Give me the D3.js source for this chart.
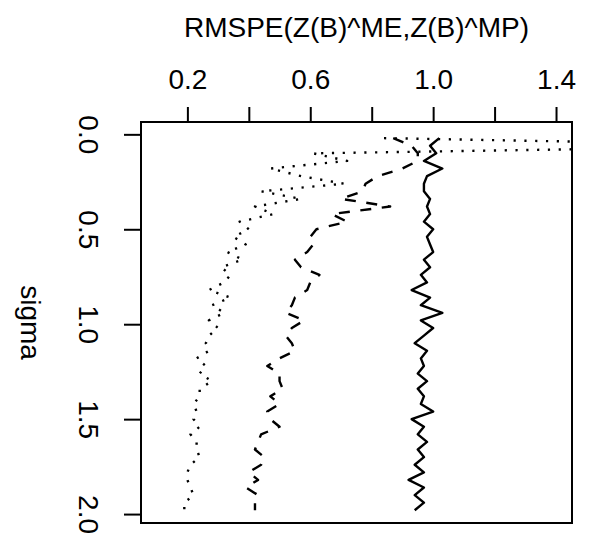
<!DOCTYPE html>
<html>
<head>
<meta charset="utf-8">
<script src="https://cdn.jsdelivr.net/npm/d3@7"></script>
<style>
  body { margin: 0; background: #fff; }
  svg { display: block; }
  text { font-family: "Liberation Sans", Arial, Helvetica, sans-serif; fill: #000; }
</style>
</head>
<body>
<div id="chart"></div>
<script>
const SIGMA = [
  0.02, 0.06, 0.10, 0.14, 0.18, 0.22, 0.26, 0.30, 0.34, 0.38,
  0.42, 0.46, 0.50, 0.54, 0.58, 0.62, 0.66, 0.70, 0.74, 0.78,
  0.82, 0.86, 0.90, 0.94, 0.98, 1.02, 1.06, 1.10, 1.14, 1.18,
  1.22, 1.26, 1.30, 1.34, 1.38, 1.42, 1.46, 1.50, 1.54, 1.58,
  1.62, 1.66, 1.70, 1.74, 1.78, 1.82, 1.86, 1.90, 1.94, 1.98
];

// solid line
const RMSPE_SOLID = [
  1.02, 0.99, 1.01, 0.97, 1.03, 0.98, 0.97, 0.97, 0.99, 0.98,
  0.99, 0.97, 1.00, 0.98, 0.99, 1.00, 0.97, 0.99, 0.96, 0.98,
  0.93, 0.99, 0.96, 1.03, 0.96, 1.00, 0.97, 0.94, 0.98, 0.96,
  0.97, 0.95, 0.98, 0.95, 0.97, 0.96, 1.00, 0.93, 0.97, 0.95,
  0.98, 0.95, 0.97, 0.94, 0.97, 0.92, 0.97, 0.94, 0.97, 0.94
];

// dashed line
const RMSPE_DASHED = [
  0.87, 0.93, 0.95, 0.95, 0.90, 0.82, 0.78, 0.77, 0.70, 0.86,
  0.67, 0.72, 0.62, 0.60, 0.61, 0.59, 0.55, 0.57, 0.63, 0.60,
  0.59, 0.55, 0.54, 0.52, 0.58, 0.54, 0.52, 0.54, 0.55, 0.50,
  0.46, 0.50, 0.50, 0.51, 0.47, 0.50, 0.46, 0.47, 0.50, 0.44,
  0.43, 0.42, 0.45, 0.44, 0.40, 0.43, 0.39, 0.43, 0.42, 0.42
];

// dotted line (second value runs past the right edge and is clipped)
const RMSPE_DOTTED = [
  0.84, 2.20, 0.61, 0.72, 0.47, 0.57, 0.71, 0.44, 0.57, 0.42,
  0.48, 0.37, 0.40, 0.35, 0.39, 0.33, 0.38, 0.31, 0.34, 0.32,
  0.27, 0.34, 0.28, 0.32, 0.27, 0.30, 0.27, 0.26, 0.27, 0.23,
  0.26, 0.24, 0.28, 0.24, 0.24, 0.22, 0.23, 0.22, 0.24, 0.21,
  0.23, 0.23, 0.24, 0.21, 0.20, 0.20, 0.21, 0.22, 0.19, 0.19
];

const X_TICKS = [0.2, 0.4, 0.6, 0.8, 1.0, 1.2, 1.4];
const X_LABELS = [0.2, 0.6, 1.0, 1.4];
const Y_TICKS = [0.0, 0.5, 1.0, 1.5, 2.0];

const W = 592, H = 540;
const box = { left: 141, right: 572, top: 122, bottom: 523 };
const FS = 28;

const svg = d3.select('#chart').append('svg')
  .attr('width', W).attr('height', H);

const x = d3.scaleLinear().domain([0.049, 1.452]).range([box.left, box.right]);
const y = d3.scaleLinear().domain([-0.065, 2.047]).range([box.top, box.bottom]);

svg.append('clipPath').attr('id', 'plotclip')
  .append('rect')
  .attr('x', box.left).attr('y', box.top)
  .attr('width', box.right - box.left).attr('height', box.bottom - box.top);

const fmt = d3.format('.1f');

// top axis (RMSPE)
svg.append('g')
  .attr('transform', `translate(0,${box.top})`)
  .call(d3.axisTop(x).tickValues(X_TICKS).tickSize(15).tickPadding(18)
    .tickFormat(d => X_LABELS.includes(d) ? fmt(d) : ''))
  .call(g => g.select('.domain').remove())
  .call(g => g.selectAll('line').attr('stroke', '#000').attr('stroke-width', 2))
  .call(g => g.selectAll('text').attr('font-size', FS).attr('fill', '#000')
    .style('font-family', '"Liberation Sans", Arial, sans-serif'));

// left axis (sigma), labels turned clockwise
svg.append('g')
  .attr('transform', `translate(${box.left},0)`)
  .call(d3.axisLeft(y).tickValues(Y_TICKS).tickSize(17).tickFormat(fmt))
  .call(g => g.select('.domain').remove())
  .call(g => g.selectAll('line').attr('stroke', '#000').attr('stroke-width', 2))
  .call(g => g.selectAll('text')
    .attr('x', null).attr('dy', null)
    .attr('text-anchor', 'middle')
    .attr('transform', `translate(${79 - box.left},0) rotate(90)`)
    .attr('font-size', FS).attr('fill', '#000')
    .style('font-family', '"Liberation Sans", Arial, sans-serif'));

// frame
svg.append('rect')
  .attr('x', box.left).attr('y', box.top)
  .attr('width', box.right - box.left).attr('height', box.bottom - box.top)
  .attr('fill', 'none').attr('stroke', '#000').attr('stroke-width', 2);

// axis titles
svg.append('text')
  .attr('x', (box.left + box.right) / 2).attr('y', 37)
  .attr('text-anchor', 'middle').attr('font-size', FS)
  .text('RMSPE(Z(B)^ME,Z(B)^MP)');

svg.append('text')
  .attr('transform', `translate(21,${(box.top + box.bottom) / 2}) rotate(90)`)
  .attr('text-anchor', 'middle').attr('font-size', FS)
  .text('sigma');

const series = [
  { values: RMSPE_SOLID, dash: null },
  { values: RMSPE_DASHED, dash: '11,10.6' },
  { values: RMSPE_DOTTED, dash: '2.2,8.6' },
];

const line = d3.line()
  .x(d => x(d[1]))
  .y(d => y(d[0]));

const lines = svg.append('g').attr('clip-path', 'url(#plotclip)');

lines.selectAll('path')
  .data(series)
  .join('path')
  .attr('d', s => line(d3.zip(SIGMA, s.values)))
  .attr('fill', 'none')
  .attr('stroke', '#000')
  .attr('stroke-width', 2.4)
  .attr('stroke-linejoin', 'round')
  .attr('stroke-dasharray', s => s.dash);
</script>
</body>
</html>
